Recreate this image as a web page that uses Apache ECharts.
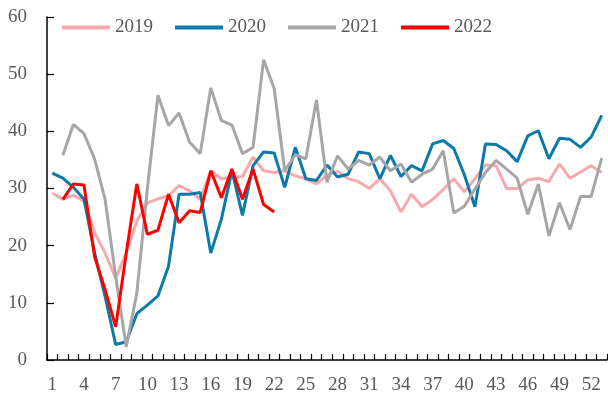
<!DOCTYPE html>
<html>
<head>
<meta charset="utf-8">
<script src="https://cdn.jsdelivr.net/npm/echarts@6/dist/echarts.min.js"></script>
<style>
  html, body { margin: 0; padding: 0; background: #fff; }
  #chart { width: 608px; height: 401px; }
</style>
</head>
<body>
<div id="chart"></div>
<script>
// week numbers 1..53
const weeks = Array.from({ length: 53 }, (_, i) => String(i + 1));

const data2019 = [
  29.2, 28.1, 28.8, 27.8, 22.3, 18.7, 14.3, 18.8, 24.3, 27.5,
  28.2, 28.7, 30.5, 29.6, 28.1, 33.1, 31.7, 32.0, 32.1, 35.5,
  33.1, 32.8, 33.1, 32.2, 31.7, 30.8, 32.4, 33.0, 31.7, 31.2,
  30.0, 31.7, 29.6, 25.9, 29.0, 26.8, 28.1, 29.8, 31.7, 29.4,
  31.7, 34.1, 34.0, 30.0, 30.0, 31.5, 31.8, 31.2, 34.3, 31.8,
  32.9, 34.0, 32.8
];

const data2020 = [
  32.7, 31.8, 30.2, 28.1, 18.8, 11.1, 2.7, 3.2, 8.1, 9.6,
  11.2, 16.4, 29.0, 29.0, 29.3, 18.7, 24.6, 33.1, 25.3, 34.0,
  36.4, 36.2, 30.2, 37.2, 31.7, 31.4, 34.1, 32.0, 32.5, 36.4,
  36.1, 31.7, 35.8, 32.1, 34.0, 33.1, 37.8, 38.4, 37.0, 32.4,
  26.8, 37.8, 37.7, 36.6, 34.7, 39.2, 40.1, 35.2, 38.8, 38.6,
  37.2, 39.0, 42.8
];

const data2021 = [
  null, 35.8, 41.2, 39.6, 35.2, 28.1, 14.6, 2.3, 11.7, 30.0,
  46.3, 41.0, 43.2, 38.1, 36.1, 47.6, 41.9, 41.1, 36.1, 37.2,
  52.5, 47.5, 33.1, 35.9, 35.2, 45.5, 31.1, 35.7, 33.4, 34.9,
  34.1, 35.5, 33.1, 34.3, 31.1, 32.5, 33.4, 36.6, 25.7, 26.9,
  29.9, 32.8, 34.9, 33.4, 31.8, 25.5, 30.8, 21.7, 27.5, 22.8,
  28.6, 28.6, 35.3
];

const data2022 = [
  null, 28.1, 30.8, 30.6, 18.1, 12.3, 5.8, 18.7, 30.8, 22.0,
  22.7, 29.0, 24.0, 26.1, 25.8, 33.1, 28.4, 33.4, 28.1, 33.4,
  27.2, 25.9
];

const labelFont = {
  fontFamily: 'Liberation Serif, serif',
  fontSize: 19,
  color: '#595959'
};

const makeSeries = (name, data, color) => ({
  name: name,
  type: 'line',
  data: data,
  symbol: 'none',
  connectNulls: false,
  lineStyle: { color: color, width: 3 },
  itemStyle: { color: color }
});

const myChart = echarts.init(document.getElementById('chart'));
const option = {
  animation: false,
  backgroundColor: '#fff',
  grid: { left: 47, right: 1, top: 17, bottom: 41, containLabel: false },
  legend: {
    top: 13,
    left: 57,
    itemWidth: 48,
    itemHeight: 4,
    itemGap: 22,
    icon: 'rect',
    textStyle: labelFont,
    data: ['2019', '2020', '2021', '2022']
  },
  xAxis: {
    type: 'category',
    data: weeks,
    boundaryGap: true,
    axisLine: { lineStyle: { color: '#000', width: 1.5 } },
    axisTick: { show: true, inside: true, length: 6, interval: 0, alignWithLabel: false,
      lineStyle: { color: '#000', width: 1.2 } },
    axisLabel: Object.assign({ interval: 2, margin: 16 }, labelFont),
    splitLine: { show: false }
  },
  yAxis: {
    type: 'value',
    min: 0,
    max: 60,
    interval: 10,
    axisLine: { show: true, lineStyle: { color: '#000', width: 1.5 } },
    axisTick: { show: true, inside: true, length: 7, lineStyle: { color: '#000', width: 1.2 } },
    axisLabel: Object.assign({ margin: 20 }, labelFont),
    splitLine: { show: false }
  },
  series: [
    makeSeries('2019', data2019, '#f7aaad'),
    makeSeries('2020', data2020, '#0b7aa8'),
    makeSeries('2021', data2021, '#a6a6a6'),
    makeSeries('2022', data2022, '#ff0000')
  ]
};
myChart.setOption(option);
</script>
</body>
</html>
